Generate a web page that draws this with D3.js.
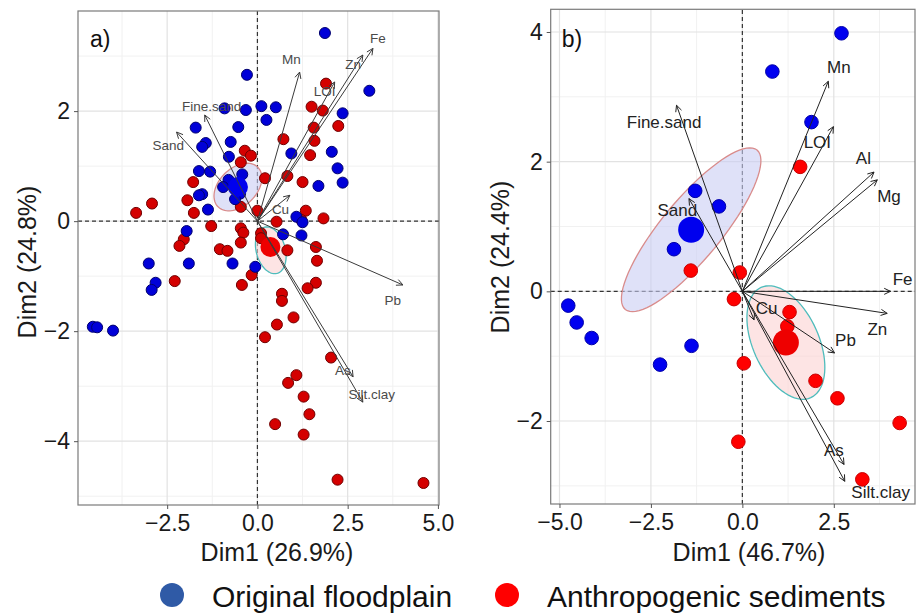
<!DOCTYPE html>
<html>
<head>
<meta charset="utf-8">
<script src="https://cdnjs.cloudflare.com/ajax/libs/d3/7.8.5/d3.min.js"></script>
<style>
  body { margin: 0; background: #fff; }
  text { font-family: 'Liberation Sans', Arial, sans-serif; }
</style>
</head>
<body>
<script>
// ---- panel a) data ----
var blueA = [
  [1.87,3.42],[3.10,2.37],[-0.29,2.66],[-0.32,2.02],[0.11,2.09],[0.51,2.07],[0.25,1.84],
  [-0.91,2.05],[-0.53,1.71],[-1.71,1.70],[-1.43,1.42],[-1.53,1.35],[-0.74,1.44],[2.36,1.96],
  [0.94,1.23],[2.06,1.26],[2.22,0.96],[2.36,0.70],[1.69,0.64],[-0.79,1.17],[-1.62,0.91],
  [-1.31,0.90],[-1.53,0.49],[-1.62,0.47],[-1.37,0.21],[1.08,0.08],[1.25,-0.02],[-1.96,-0.18],
  [0.71,-0.24],[1.22,-0.26],[-3.01,-0.77],[-1.90,-0.77],[-0.69,-0.77],[-0.06,-0.83],
  [-2.82,-1.12],[-2.93,-1.25],[-4.56,-1.92],[-4.44,-1.93],[-4.00,-1.99],
  [-0.80,0.75],[-0.42,0.85],[-0.48,0.50],[-0.95,0.62],[-0.62,0.40]
];
var redA = [
  [1.90,2.50],[1.50,2.08],[1.81,2.01],[2.24,1.73],[1.56,1.70],[0.72,1.49],[1.58,1.46],
  [1.46,1.20],[-0.35,1.28],[-0.18,1.19],[-0.46,1.07],[0.21,0.78],[0.83,0.82],[1.25,0.71],
  [-1.78,0.71],[-1.94,0.38],[-2.92,0.32],[-3.36,0.15],[-1.76,0.15],[-0.46,0.26],[0.00,0.19],
  [0.53,-0.01],[1.34,0.19],[1.22,0.02],[1.83,0.05],[-1.28,-0.09],[-0.46,-0.13],[-0.39,-0.21],
  [-2.04,-0.33],[-2.16,-0.45],[-1.04,-0.51],[-0.83,-0.54],[-0.46,-0.39],[0.10,-0.22],
  [0.10,-0.31],[0.83,-0.53],[1.62,-0.47],[1.65,-0.72],[-2.29,-1.09],[-0.43,-1.16],
  [-0.16,-0.98],[1.62,-1.12],[1.39,-1.22],[0.68,-1.32],[0.68,-1.45],[1.00,-1.75],
  [0.54,-1.88],[0.21,-2.11],[2.04,-2.48],[1.08,-2.80],[0.85,-2.94],[1.28,-3.19],
  [1.44,-3.51],[0.49,-3.69],[1.28,-3.88],[2.22,-4.70],[4.60,-4.76]
];
var meanA = { blue: [-0.54, 0.62], red: [0.36, -0.47] };
// ellipse: centre, half major axis, half minor axis (data units)
var ellipseA = {
  blue: { c: [-0.54, 0.62], a: [0.55, 0.36], b: [0.37, -0.24] },
  red:  { c: [0.37, -0.53], a: [0.17, -0.42], b: [0.39, 0.065] }
};
var varsA   = ['Fe', 'Zn', 'Mn', 'LOI', 'Cu', 'Fine.sand', 'Sand', 'Pb', 'As', 'Silt.clay'];
var loadA   = [[3.20,3.14],[2.92,3.02],[1.17,2.71],[2.14,2.53],[0.90,0.47],[-1.46,1.93],[-2.24,1.62],[4.03,-1.16],[2.65,-2.83],[2.92,-3.29]];
var labelA  = [[3.34,3.32],[2.65,2.84],[0.94,2.93],[1.86,2.35],[0.64,0.21],[-1.27,2.09],[-2.47,1.38],[3.75,-1.44],[2.37,-2.71],[3.17,-3.15]];

// ---- panel b) data ----
var blueB = [
  [2.71,3.98],[0.82,3.39],[1.89,2.61],[-1.29,1.55],[-0.64,1.31],[-1.87,0.65],
  [-4.76,-0.22],[-4.53,-0.48],[-4.12,-0.72],[-1.39,-0.84],[-2.25,-1.13]
];
var redB = [
  [1.58,1.92],[-1.41,0.32],[-0.07,0.29],[-0.23,-0.12],[1.29,-0.32],[1.23,-0.54],
  [0.04,-1.11],[2.00,-1.38],[2.60,-1.65],[4.30,-2.03],[-0.11,-2.32],[3.28,-2.90]
];
var meanB = { blue: [-1.40, 0.95], red: [1.19, -0.79] };
var ellipseB = {
  blue: { c: [-1.40, 0.95], a: [1.80, 1.23], b: [0.63, -0.29] },
  red:  { c: [1.19, -0.79], a: [0.68, -0.85], b: [0.82, 0.21] }
};
var varsB  = ['Fine.sand', 'Sand', 'Mn', 'LOI', 'Al', 'Mg', 'Fe', 'Zn', 'Pb', 'Cu', 'As', 'Silt.clay'];
var loadB  = [[-1.80,2.87],[-1.46,1.43],[2.35,3.24],[2.49,2.54],[3.60,1.84],[3.69,1.72],[4.05,0.00],[3.96,-0.34],[2.52,-0.95],[0.32,-0.44],[2.78,-2.67],[2.80,-2.93]];
var labelB = [[-2.14,2.61],[-1.78,1.25],[2.64,3.46],[2.05,2.29],[3.31,2.05],[4.01,1.46],[4.38,0.18],[3.69,-0.59],[2.82,-0.76],[0.66,-0.27],[2.50,-2.46],[3.78,-3.10]];

var ticksA_x = [-2.5, 0, 2.5, 5], ticksA_y = [-4, -2, 0, 2];
var ticksB_x = [-5, -2.5, 0, 2.5], ticksB_y = [-2, 0, 2, 4];

var svg = d3.select('body').append('svg')
  .attr('width', 919)
  .attr('height', 615)
  .style('background', '#fff');

function drawPanel(p) {
  var x = d3.scaleLinear().domain(p.xdom).range(p.xrange);
  var y = d3.scaleLinear().domain(p.ydom).range(p.yrange);
  var g = svg.append('g');

  // grid, minor then major
  var minorX = p.xticks.map(function(t) { return t - 1.25; }).concat([p.xticks[p.xticks.length - 1] + 1.25])
    .filter(function(t) { return t > p.xdom[0] && t < p.xdom[1]; });
  var minorY = p.yticks.map(function(t) { return t - 1; }).concat([p.yticks[p.yticks.length - 1] + 1])
    .filter(function(t) { return t > p.ydom[0] && t < p.ydom[1]; });
  g.selectAll('.mx').data(minorX).enter().append('line')
    .attr('x1', x).attr('x2', x).attr('y1', p.yrange[0]).attr('y2', p.yrange[1])
    .style('stroke', '#f1f1f1').style('stroke-width', 1);
  g.selectAll('.my').data(minorY).enter().append('line')
    .attr('y1', y).attr('y2', y).attr('x1', p.xrange[0]).attr('x2', p.xrange[1])
    .style('stroke', '#f1f1f1').style('stroke-width', 1);
  g.selectAll('.gx').data(p.xticks).enter().append('line')
    .attr('x1', x).attr('x2', x).attr('y1', p.yrange[0]).attr('y2', p.yrange[1])
    .style('stroke', '#e2e2e2').style('stroke-width', 1.2);
  g.selectAll('.gy').data(p.yticks).enter().append('line')
    .attr('y1', y).attr('y2', y).attr('x1', p.xrange[0]).attr('x2', p.xrange[1])
    .style('stroke', '#e2e2e2').style('stroke-width', 1.2);

  // zero lines
  g.append('line')
    .attr('x1', x(0)).attr('x2', x(0)).attr('y1', p.yrange[0]).attr('y2', p.yrange[1])
    .style('stroke', '#333').style('stroke-dasharray', '4,3').style('stroke-width', 1.2);
  g.append('line')
    .attr('y1', y(0)).attr('y2', y(0)).attr('x1', p.xrange[0]).attr('x2', p.xrange[1])
    .style('stroke', '#333').style('stroke-dasharray', '4,3').style('stroke-width', 1.2);

  // ellipses
  var ang = d3.range(0, 2 * Math.PI, Math.PI / 40);
  var ell = d3.line().curve(d3.curveLinearClosed);
  [['blue', '#c9cdf3', '#d98c8c'], ['red', '#fbd2d2', '#4fbcbc']].forEach(function(k) {
    var e = p.ellipse[k[0]];
    var pts = ang.map(function(t) {
      return [x(e.c[0] + e.a[0] * Math.cos(t) + e.b[0] * Math.sin(t)),
              y(e.c[1] + e.a[1] * Math.cos(t) + e.b[1] * Math.sin(t))];
    });
    g.append('path').attr('d', ell(pts))
      .style('fill', k[1]).style('fill-opacity', 0.6)
      .style('stroke', k[2]).style('stroke-width', 1.3);
  });

  // points
  g.selectAll('.pr').data(p.red).enter().append('circle')
    .attr('cx', function(d) { return x(d[0]); })
    .attr('cy', function(d) { return y(d[1]); })
    .attr('r', p.r)
    .style('fill', p.redFill).style('stroke', p.redStroke).style('stroke-width', 1);
  g.selectAll('.pb').data(p.blue).enter().append('circle')
    .attr('cx', function(d) { return x(d[0]); })
    .attr('cy', function(d) { return y(d[1]); })
    .attr('r', p.r)
    .style('fill', p.blueFill).style('stroke', p.blueStroke).style('stroke-width', 1);
  g.append('circle').attr('cx', x(p.mean.blue[0])).attr('cy', y(p.mean.blue[1])).attr('r', p.bigR)
    .style('fill', '#0000ee');
  g.append('circle').attr('cx', x(p.mean.red[0])).attr('cy', y(p.mean.red[1])).attr('r', p.bigR)
    .style('fill', '#ee0000');

  // variable arrows
  p.load.forEach(function(d, i) {
    var x0 = x(0), y0 = y(0), x1 = x(d[0]), y1 = y(d[1]);
    var a = Math.atan2(y1 - y0, x1 - x0);
    var h = 7;
    g.append('path')
      .attr('d', 'M' + x0 + ',' + y0 + 'L' + x1 + ',' + y1 +
        'M' + (x1 - h * Math.cos(a - 0.45)) + ',' + (y1 - h * Math.sin(a - 0.45)) +
        'L' + x1 + ',' + y1 +
        'L' + (x1 - h * Math.cos(a + 0.45)) + ',' + (y1 - h * Math.sin(a + 0.45)))
      .style('fill', 'none').style('stroke', p.arrowColor).style('stroke-width', 1);
    g.append('text')
      .attr('x', x(p.labels[i][0]))
      .attr('y', y(p.labels[i][1]))
      .attr('text-anchor', 'middle')
      .attr('dominant-baseline', 'central')
      .style('font-size', p.labelSize + 'px')
      .style('fill', p.labelColor)
      .text(p.vars[i]);
  });

  // border
  g.append('rect')
    .attr('x', p.xrange[0]).attr('y', p.yrange[1])
    .attr('width', p.xrange[1] - p.xrange[0]).attr('height', p.yrange[0] - p.yrange[1])
    .style('fill', 'none').style('stroke', '#7a7a7a').style('stroke-width', 1.2);

  // axes
  var xAxis = g.append('g')
    .attr('transform', 'translate(0,' + p.yrange[0] + ')')
    .call(d3.axisBottom(x).tickValues(p.xticks).tickFormat(d3.format('.1f')).tickSize(4).tickPadding(6));
  var yAxis = g.append('g')
    .attr('transform', 'translate(' + p.xrange[0] + ',0)')
    .call(d3.axisLeft(y).tickValues(p.yticks).tickFormat(d3.format('d')).tickSize(4).tickPadding(4));
  [xAxis, yAxis].forEach(function(ax) {
    ax.select('.domain').remove();
    ax.selectAll('line').style('stroke', '#555');
    ax.selectAll('text')
      .style('font-size', '23px')
      .style('font-family', "'Liberation Sans', Arial, sans-serif")
      .style('fill', '#1a1a1a');
  });

  g.append('text')
    .attr('x', p.xTitlePos).attr('y', 561)
    .attr('text-anchor', 'middle')
    .style('font-size', '25px').style('fill', '#1a1a1a')
    .text(p.xTitle);
  g.append('text')
    .attr('transform', 'translate(' + p.yTitlePos[0] + ',' + p.yTitlePos[1] + ') rotate(-90)')
    .attr('text-anchor', 'middle')
    .attr('dominant-baseline', 'central')
    .style('font-size', '25px').style('fill', '#1a1a1a')
    .text(p.yTitle);
  g.append('text')
    .attr('x', p.xrange[0] + p.tagOffset).attr('y', 47)
    .style('font-size', '23px').style('fill', '#111')
    .text(p.tag);
}

drawPanel({
  xdom: [-4.97, 5.03], xrange: [78, 439],
  ydom: [-5.16, 3.82], yrange: [505, 11],
  xticks: ticksA_x, yticks: ticksA_y,
  blue: blueA, red: redA, mean: meanA, ellipse: ellipseA,
  vars: varsA, load: loadA, labels: labelA,
  r: 5.5, bigR: 10,
  blueFill: '#0000d8', blueStroke: '#00006e',
  redFill: '#d40000', redStroke: '#700000',
  arrowColor: '#3a3a3a', labelColor: '#4a4a4a', labelSize: 13.5,
  xTitle: 'Dim1 (26.9%)', xTitlePos: 277,
  yTitle: 'Dim2 (24.8%)', yTitlePos: [27, 262],
  tag: 'a)', tagOffset: 12
});

drawPanel({
  xdom: [-5.24, 4.72], xrange: [550.7, 915],
  ydom: [-3.28, 4.35], yrange: [504, 9.3],
  xticks: ticksB_x, yticks: ticksB_y,
  blue: blueB, red: redB, mean: meanB, ellipse: ellipseB,
  vars: varsB, load: loadB, labels: labelB,
  r: 6.8, bigR: 13,
  blueFill: '#0000f0', blueStroke: '#0000a8',
  redFill: '#ff0000', redStroke: '#c80000',
  arrowColor: '#222', labelColor: '#222', labelSize: 17,
  xTitle: 'Dim1 (46.7%)', xTitlePos: 749,
  yTitle: 'Dim2 (24.4%)', yTitlePos: [500, 257],
  tag: 'b)', tagOffset: 11
});

// legend
var legend = [
  { name: 'Original floodplain', color: '#2f5aa6' },
  { name: 'Anthropogenic sediments', color: '#ff0000' }
];
var legendX = d3.scalePoint().domain(legend.map(function(d) { return d.name; })).range([172, 507]);
var lg = svg.selectAll('.legend').data(legend).enter().append('g')
  .attr('transform', function(d) { return 'translate(' + legendX(d.name) + ',595)'; });
lg.append('circle').attr('r', 12).style('fill', function(d) { return d.color; });
lg.append('text')
  .attr('x', 40).attr('y', 12)
  .style('font-size', '30px').style('fill', '#111')
  .text(function(d) { return d.name; });
</script>
</body>
</html>
